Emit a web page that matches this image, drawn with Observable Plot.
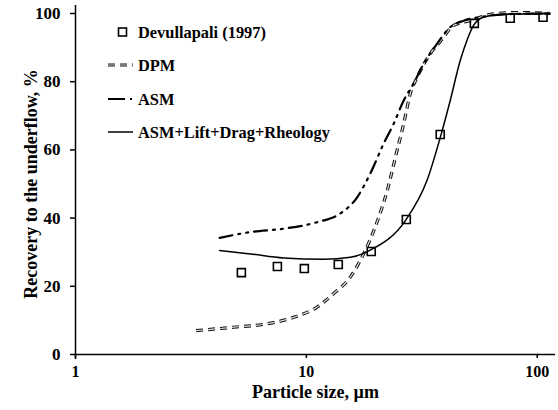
<!DOCTYPE html>
<html>
<head>
<meta charset="utf-8">
<script src="https://cdn.jsdelivr.net/npm/d3@7"></script>
<script src="https://cdn.jsdelivr.net/npm/@observablehq/plot@0.6"></script>
<style>
  body { margin: 0; background: white; }
  #wrap { position: relative; width: 558px; height: 410px; font-family: "Liberation Serif", "Times New Roman", serif; }
  #wrap svg text { font-family: "Liberation Serif", "Times New Roman", serif !important; font-weight: bold; }
  #legend { position: absolute; left: 0; top: 0; pointer-events: none; }
</style>
</head>
<body>
<div id="wrap"></div>
<script>
// Experimental data: Devullapali (1997)
const expSize = [5.23, 7.49, 9.8, 13.75, 19.1, 27.1, 38.0, 53.4, 76.4, 106];
const expRec  = [24.0, 25.8, 25.2, 26.4, 30.2, 39.6, 64.5, 97.1, 98.6, 98.9];

// DPM curve
const dpmSize = [3.33, 4.85, 6.76, 8.81, 11.13, 13.1, 15.5, 17.7, 20.2, 22.4, 24.7, 26.4, 28.2, 30.2, 34.4, 38.3, 43.4, 51.3, 64.7, 81.7, 113.8];
const dpmRec  = [7.0, 8.0, 9.0, 10.9, 13.9, 17.8, 22.7, 29.5, 38.7, 48.1, 59.8, 67.7, 76.5, 81.3, 88.2, 92.1, 96.5, 97.9, 99.9, 100.3, 100];

// ASM curve
const asmSize = [4.21, 5.72, 7.97, 11.13, 14.0, 16.6, 18.9, 21.6, 23.9, 26.4, 29.1, 32.2, 36.8, 42.0, 48.0, 58.6, 81.7, 113.8];
const asmRec  = [34.2, 35.9, 36.9, 38.8, 41.3, 46.1, 53.0, 61.8, 67.7, 74.5, 79.4, 85.2, 91.1, 96.0, 97.9, 99.1, 99.9, 100];

// ASM+Lift+Drag+Rheology curve
const fullSize = [4.21, 5.72, 7.97, 11.88, 15.5, 18.9, 27.0, 33.3, 38.3, 42.0, 46.4, 49.6, 53.0, 58.4, 69.2, 113.8];
const fullRec  = [30.5, 29.5, 28.3, 27.9, 28.5, 30.6, 39.5, 51.0, 64.4, 74.5, 86.2, 92.1, 96.5, 98.9, 99.7, 99.9];

const xTicks = [1, 10, 100];
const yTicks = [0, 20, 40, 60, 80, 100];

const xLabel = "Particle size, µm";
const yLabel = "Recovery to the underflow, %";
const seriesNames = ["Devullapali (1997)", "DPM", "ASM", "ASM+Lift+Drag+Rheology"];

const zip = (xs, ys) => xs.map((x, i) => ({x, y: ys[i]}));
const expData = zip(expSize, expRec);
const dpmData = zip(dpmSize, dpmRec);
const asmData = zip(asmSize, asmRec);
const fullData = zip(fullSize, fullRec);

const FONT = '"Liberation Serif", "Times New Roman", serif';

const chart = Plot.plot({
  width: 558,
  height: 410,
  marginLeft: 75,
  marginRight: 3,
  marginTop: 13,
  marginBottom: 56,
  style: {fontFamily: FONT, fontSize: "16px", fontWeight: "bold", background: "white", color: "black", overflow: "visible"},
  x: {type: "log", domain: [1, 120]},
  y: {domain: [0, 100]},
  marks: [
    Plot.axisY({ticks: yTicks, tickSize: 5, tickPadding: 10, label: null, strokeWidth: 1.5, fontSize: 17}),
    Plot.axisX({ticks: xTicks, tickSize: 4, tickPadding: 7, label: null, strokeWidth: 1.5, fontSize: 16, tickFormat: d => String(d)}),
    Plot.ruleY([0], {stroke: "black", strokeWidth: 1.5}),
    Plot.ruleX([1], {stroke: "black", strokeWidth: 1.5, insetTop: -8, insetBottom: -5}),
    // DPM: outlined dashes
    Plot.line(dpmData, {x: "x", y: "y", curve: "monotone-x", stroke: "#111", strokeWidth: 3.2, strokeDasharray: "7,5", strokeLinecap: "butt"}),
    Plot.line(dpmData, {x: "x", y: "y", curve: "monotone-x", stroke: "#e0e0e0", strokeWidth: 1.2, strokeDasharray: "7,5", strokeLinecap: "butt"}),
    // ASM: dash-dot-dot
    Plot.line(asmData, {x: "x", y: "y", curve: "monotone-x", stroke: "black", strokeWidth: 2.2, strokeDasharray: "13,6,2,6,2,6"}),
    // ASM+Lift+Drag+Rheology: solid
    Plot.line(fullData, {x: "x", y: "y", curve: "monotone-x", stroke: "black", strokeWidth: 1.5}),
    // experimental squares
    Plot.dot(expData, {x: "x", y: "y", symbol: "square", r: 4.5, stroke: "black", strokeWidth: 1.6, fill: "none"}),
    // axis titles
    Plot.text([xLabel], {frameAnchor: "bottom", dy: 43, fontSize: 18, fontWeight: "bold", textAnchor: "middle", fill: "black"}),
    Plot.text([yLabel], {frameAnchor: "left", dx: -44, rotate: -90, fontSize: 18, fontWeight: "bold", textAnchor: "middle", fill: "black"})
  ]
});

const wrap = document.getElementById("wrap");
wrap.appendChild(chart);

// Legend overlay
const leg = d3.select(wrap).append("svg")
  .attr("id", "legend").attr("width", 558).attr("height", 410)
  .style("font-family", FONT).style("font-weight", "bold").style("font-size", "16.4px");

const rowsY = [32, 65, 99, 132];
const x0 = 108, x1 = 133, tx = 138;

// square
leg.append("rect").attr("x", 122.5 - 4).attr("y", rowsY[0] - 4).attr("width", 8).attr("height", 8)
  .attr("fill", "none").attr("stroke", "black").attr("stroke-width", 1.6);
// DPM
leg.append("line").attr("x1", x0).attr("x2", x1).attr("y1", rowsY[1]).attr("y2", rowsY[1])
  .attr("stroke", "#111").attr("stroke-width", 3).attr("stroke-dasharray", "7,5");
leg.append("line").attr("x1", x0).attr("x2", x1).attr("y1", rowsY[1]).attr("y2", rowsY[1])
  .attr("stroke", "#e0e0e0").attr("stroke-width", 1).attr("stroke-dasharray", "7,5");
// ASM
leg.append("line").attr("x1", x0).attr("x2", x1).attr("y1", rowsY[2]).attr("y2", rowsY[2])
  .attr("stroke", "black").attr("stroke-width", 2.2).attr("stroke-dasharray", "17,5,2,6");
// solid
leg.append("line").attr("x1", x0).attr("x2", x1).attr("y1", rowsY[3]).attr("y2", rowsY[3])
  .attr("stroke", "black").attr("stroke-width", 1.5);

seriesNames.forEach((name, i) => {
  leg.append("text").attr("x", tx).attr("y", rowsY[i]).attr("dy", "0.35em").text(name);
});
</script>
</body>
</html>
